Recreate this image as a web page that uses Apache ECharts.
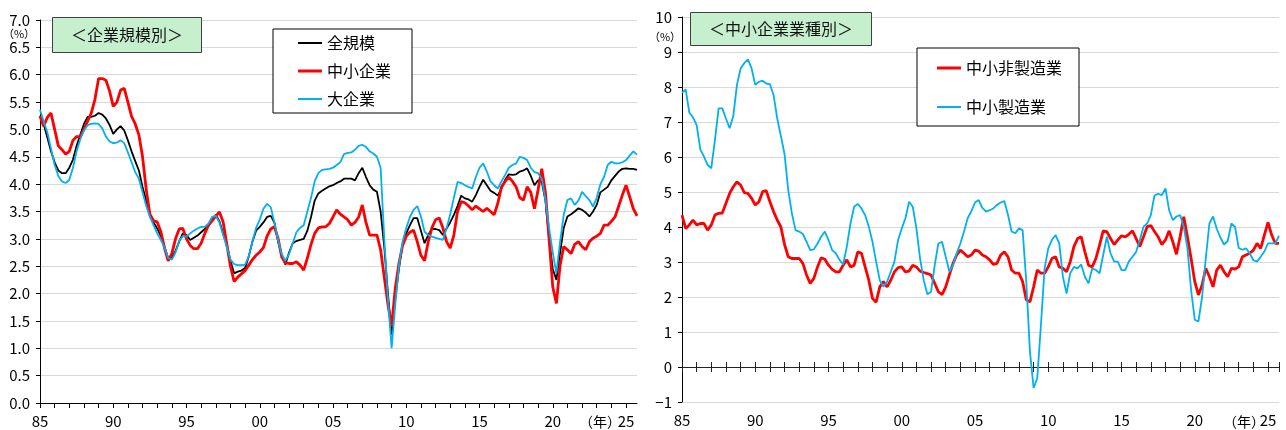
<!DOCTYPE html>
<html>
<head>
<meta charset="utf-8">
<script src="https://cdn.jsdelivr.net/npm/echarts@6/dist/echarts.min.js"></script>
<style>
html,body{margin:0;padding:0;background:#fff;}
#main{width:1286px;height:430px;}
</style>
</head>
<body>
<div id="main"></div>
<script>
// quarterly data, 1985Q1 .. 2025Q4
var quarters = [];
for (var yr = 1985; yr <= 2025; yr++) {
	for (var q = 1; q <= 4; q++) quarters.push(yr + 'Q' + q);
}
var yearLabels = ['85', '90', '95', '00', '05', '10', '15', '20', '25'];

// 企業規模別 (%)
var allSize = [
	5.25, 5.10, 4.85, 4.60,  4.40, 4.25, 4.20, 4.20,  4.30, 4.45, 4.70, 4.90,  5.10, 5.23, 5.23, 5.25,
	5.30, 5.27, 5.20, 5.08,  4.92, 5.00, 5.06, 4.98,  4.80, 4.60, 4.42, 4.25,  3.95, 3.70, 3.45, 3.30,
	3.19, 3.05, 2.85, 2.64,  2.65, 2.78, 2.95, 3.10,  3.07, 2.98, 3.02, 3.06,  3.12, 3.18, 3.24, 3.35,
	3.44, 3.32, 3.10, 2.90,  2.60, 2.37, 2.40, 2.42,  2.47, 2.68, 2.95, 3.15,  3.22, 3.30, 3.40, 3.42,
	3.30, 2.95, 2.70, 2.53,  2.75, 2.92, 2.96, 2.98,  3.00, 3.15, 3.40, 3.70,  3.83, 3.88, 3.92, 3.96,
	3.98, 4.02, 4.05, 4.10,  4.10, 4.10, 4.07, 4.20,  4.30, 4.13, 3.98, 3.90,  3.86, 3.50, 2.85, 2.00,
	1.25, 1.90, 2.45, 2.90,  3.10, 3.25, 3.38, 3.38,  3.15, 2.92, 3.07, 3.18,  3.18, 3.16, 3.07, 3.19,
	3.30, 3.44, 3.60, 3.79,  3.74, 3.72, 3.68, 3.80,  3.95, 4.08, 3.98, 3.88,  3.84, 3.79, 3.92, 4.08,
	4.18, 4.17, 4.18, 4.23,  4.25, 4.29, 4.15, 3.98,  4.07, 4.04, 3.70, 3.00,  2.45, 2.25, 2.75, 3.20,
	3.41, 3.45, 3.50, 3.56,  3.53, 3.48, 3.41, 3.50,  3.62, 3.85, 3.90, 3.95,  4.07, 4.15, 4.23, 4.28,
	4.29, 4.28, 4.28, 4.26
];
var smeAll = [
	5.24, 5.06, 5.22, 5.30,  5.00, 4.70, 4.63, 4.55,  4.60, 4.80, 4.87, 4.87,  5.00, 5.15, 5.30, 5.55,
	5.93, 5.93, 5.90, 5.70,  5.42, 5.50, 5.72, 5.75,  5.50, 5.24, 5.10, 4.90,  4.50, 3.90, 3.45, 3.33,
	3.31, 3.13, 2.83, 2.60,  2.73, 3.00, 3.18, 3.19,  3.00, 2.88, 2.82, 2.82,  2.92, 3.10, 3.25, 3.33,
	3.42, 3.49, 3.31, 2.90,  2.50, 2.22, 2.30, 2.36,  2.42, 2.52, 2.62, 2.70,  2.76, 2.84, 3.05, 3.18,
	3.22, 3.01, 2.67, 2.56,  2.55, 2.55, 2.58, 2.52,  2.43, 2.65, 2.90, 3.10,  3.20, 3.22, 3.22, 3.28,
	3.40, 3.53, 3.45, 3.40,  3.35, 3.25, 3.30, 3.40,  3.62, 3.30, 3.07, 3.07,  3.07, 2.80, 2.30, 1.80,
	1.40, 2.10, 2.55, 2.88,  3.05, 3.12, 3.16, 2.95,  2.70, 2.60, 2.95, 3.20,  3.35, 3.38, 3.20, 2.95,
	2.83, 3.07, 3.50, 3.68,  3.66, 3.60, 3.53, 3.60,  3.55, 3.50, 3.56, 3.50,  3.44, 3.65, 3.95, 4.05,
	4.13, 4.05, 3.95, 3.75,  3.71, 3.95, 3.85, 3.55,  3.90, 4.28, 3.85, 3.00,  2.12, 1.82, 2.52, 2.86,
	2.80, 2.73, 2.90, 2.95,  2.86, 2.80, 2.95, 3.01,  3.05, 3.10, 3.25, 3.25,  3.32, 3.40, 3.60, 3.80,
	3.98, 3.77, 3.55, 3.42
];
var largeAll = [
	5.36, 5.15, 4.95, 4.65,  4.35, 4.15, 4.05, 4.02,  4.08, 4.30, 4.60, 4.82,  4.98, 5.08, 5.10, 5.11,
	5.10, 5.02, 4.87, 4.78,  4.75, 4.76, 4.80, 4.75,  4.58, 4.40, 4.22, 4.10,  3.85, 3.60, 3.40, 3.25,
	3.10, 2.98, 2.84, 2.65,  2.62, 2.75, 2.96, 3.05,  3.04, 3.10, 3.15, 3.19,  3.22, 3.22, 3.28, 3.40,
	3.42, 3.30, 3.07, 2.85,  2.62, 2.54, 2.52, 2.52,  2.53, 2.68, 2.95, 3.20,  3.35, 3.55, 3.64, 3.58,
	3.30, 2.98, 2.72, 2.60,  2.72, 2.92, 3.12, 3.20,  3.25, 3.50, 3.75, 4.05,  4.20, 4.26, 4.27, 4.28,
	4.30, 4.35, 4.40, 4.55,  4.57, 4.58, 4.63, 4.70,  4.72, 4.68, 4.60, 4.56,  4.50, 4.30, 3.00, 1.90,
	1.00, 1.80, 2.50, 2.95,  3.20, 3.40, 3.53, 3.60,  3.41, 3.13, 3.07, 3.04,  3.02, 3.00, 2.98, 3.19,
	3.45, 3.75, 4.04, 4.02,  3.98, 3.95, 3.92, 4.13,  4.30, 4.38, 4.23, 4.05,  3.98, 3.92, 4.05, 4.17,
	4.30, 4.35, 4.38, 4.50,  4.48, 4.44, 4.30, 4.22,  4.20, 4.10, 3.71, 3.20,  2.75, 2.37, 2.95, 3.44,
	3.71, 3.74, 3.62, 3.70,  3.86, 3.78, 3.71, 3.59,  3.75, 4.00, 4.13, 4.35,  4.41, 4.38, 4.38, 4.40,
	4.44, 4.52, 4.60, 4.54
];

// 中小企業業種別 (%)
var smeNonMfg = [
	4.34, 3.96, 4.06, 4.20,  4.06, 4.10, 4.10, 3.91,  4.06, 4.34, 4.39, 4.40,  4.68, 4.96, 5.15, 5.29,
	5.20, 4.98, 4.96, 4.82,  4.63, 4.72, 5.01, 5.04,  4.72, 4.44, 4.20, 4.00,  3.50, 3.15, 3.10, 3.10,
	3.10, 2.96, 2.63, 2.39,  2.53, 2.86, 3.12, 3.08,  2.91, 2.79, 2.72, 2.72,  2.91, 3.06, 2.86, 2.91,
	3.29, 3.25, 2.86, 2.48,  1.96, 1.85, 2.29, 2.44,  2.29, 2.48, 2.72, 2.84,  2.86, 2.72, 2.74, 2.91,
	2.86, 2.74, 2.70, 2.67,  2.63, 2.39, 2.15, 2.07,  2.29, 2.63, 2.96, 3.20,  3.34, 3.25, 3.15, 3.20,
	3.34, 3.31, 3.20, 3.15,  3.06, 2.93, 2.96, 3.20,  3.29, 3.15, 2.77, 2.68,  2.68, 2.44, 1.92, 1.86,
	2.29, 2.77, 2.68, 2.68,  2.86, 3.10, 3.15, 2.86,  2.82, 2.72, 3.01, 3.44,  3.67, 3.72, 3.29, 2.91,
	2.86, 3.10, 3.48, 3.89,  3.87, 3.67, 3.50, 3.63,  3.75, 3.72, 3.79, 3.89,  3.67, 3.44, 3.72, 4.01,
	4.04, 3.87, 3.72, 3.50,  3.63, 3.89, 3.58, 3.22,  3.72, 4.29, 3.72, 3.10,  2.44, 2.06, 2.34, 2.82,
	2.58, 2.29, 2.77, 2.91,  2.72, 2.58, 2.82, 2.80,  2.86, 3.15, 3.20, 3.25,  3.34, 3.53, 3.39, 3.77,
	4.13, 3.77, 3.53, 3.53
];
var smeMfg = [
	7.84, 7.93, 7.27, 7.13,  6.91, 6.22, 6.01, 5.77,  5.68, 6.49, 7.39, 7.39,  7.10, 6.82, 7.17, 8.06,
	8.53, 8.68, 8.79, 8.53,  8.06, 8.15, 8.18, 8.10,  8.08, 7.77, 7.10, 6.60,  6.08, 5.06, 4.39, 3.91,
	3.87, 3.80, 3.58, 3.34,  3.36, 3.53, 3.72, 3.87,  3.63, 3.34, 3.25, 3.06,  2.93, 3.44, 4.10, 4.58,
	4.66, 4.53, 4.34, 4.01,  3.58, 3.01, 2.48, 2.29,  2.44, 2.72, 3.01, 3.63,  3.96, 4.25, 4.72, 4.58,
	3.96, 3.10, 2.48, 2.08,  2.15, 2.91, 3.53, 3.58,  3.15, 2.72, 2.91, 3.25,  3.53, 3.87, 4.25, 4.45,
	4.70, 4.77, 4.55, 4.44,  4.48, 4.53, 4.63, 4.70,  4.74, 4.35, 3.87, 3.82,  3.96, 3.91, 2.44, 0.44,
	-0.60, -0.32, 1.20, 2.82,  3.39, 3.63, 3.77, 3.53,  2.58, 2.10, 2.68, 2.86,  2.82, 2.93, 2.58, 2.39,
	2.82, 2.77, 2.68, 3.20,  3.72, 3.25, 3.01, 3.01,  2.77, 2.77, 3.01, 3.15,  3.29, 3.63, 4.01, 4.10,
	4.34, 4.90, 4.95, 4.91,  5.10, 4.48, 4.20, 4.30,  4.34, 4.00, 3.40, 2.20,  1.35, 1.30, 2.00, 3.10,
	4.10, 4.30, 3.95, 3.70,  3.50, 3.60, 4.10, 4.00,  3.40, 3.35, 3.39, 3.25,  3.05, 3.01, 3.15, 3.30,
	3.53, 3.53, 3.53, 3.75
];

var FONT = 'Noto Sans CJK JP';
var GRIDLINE = '#d9d9d9';
var lastIdx = quarters.length - 1;

// flat line shapes for the legend keys (thin and thick)
var KEY_THIN = 'path://M0,0H24V2H0Z';
var KEY_THICK = 'path://M0,0H24V3H0Z';

function tickEvery(i) { return i % 4 === 0; }
function tickEveryEnd(i) { return i % 4 === 0 || i === lastIdx; }
function labelEvery(i) { return i % 20 === 0; }
function yearFmt(v, i) { return yearLabels[i / 20]; }

var chart = echarts.init(document.getElementById('main'), null, { renderer: 'canvas' });

var option = {
	animation: false,
	backgroundColor: '#fff',
	textStyle: { fontFamily: FONT },
	title: [
		{
			text: '＜企業規模別＞', left: 52, top: 17, padding: [10, 19],
			backgroundColor: '#c6efce', borderColor: '#404040', borderWidth: 1,
			textStyle: { fontFamily: FONT, fontSize: 16, fontWeight: 'normal', color: '#111' }
		},
		{
			text: '＜中小企業業種別＞', left: 690, top: 12, padding: [9, 19],
			backgroundColor: '#c6efce', borderColor: '#404040', borderWidth: 1,
			textStyle: { fontFamily: FONT, fontSize: 16, fontWeight: 'normal', color: '#111' }
		}
	],
	legend: [
		{
			data: [
				{ name: '全規模', icon: KEY_THIN },
				{ name: '中小企業', icon: KEY_THICK },
				{ name: '大企業', icon: KEY_THIN }
			],
			orient: 'vertical', left: 273, top: 29, padding: [6, 21, 6, 25],
			itemGap: 12, itemWidth: 24, itemHeight: 14,
			backgroundColor: '#fff', borderColor: '#000', borderWidth: 1,
			textStyle: { fontFamily: FONT, fontSize: 16, color: '#000' }
		},
		{
			data: [
				{ name: '中小非製造業', icon: KEY_THICK },
				{ name: '中小製造業', icon: KEY_THIN }
			],
			orient: 'vertical', left: 917, top: 48, padding: [12, 17, 11, 20],
			itemGap: 23, itemWidth: 24, itemHeight: 14,
			backgroundColor: '#fff', borderColor: '#000', borderWidth: 1,
			textStyle: { fontFamily: FONT, fontSize: 16, color: '#000' }
		}
	],
	grid: [
		{ left: 40, top: 20, width: 597, bottom: 27, containLabel: false, outerBoundsMode: 'none' },
		{ left: 682, top: 17, width: 597, bottom: 28, containLabel: false, outerBoundsMode: 'none' }
	],
	xAxis: [
		{
			type: 'category', gridIndex: 0, data: quarters, boundaryGap: false,
			axisLine: { lineStyle: { color: '#000', width: 1 } },
			axisTick: { show: true, interval: tickEvery, length: 5, lineStyle: { color: '#000' } },
			axisLabel: { interval: labelEvery, formatter: yearFmt, margin: 11, fontSize: 15, color: '#000', fontFamily: FONT },
			splitLine: { show: false }
		},
		{
			// year labels along the bottom of the right panel
			type: 'category', gridIndex: 1, data: quarters, boundaryGap: false, position: 'bottom',
			axisLine: { show: false, onZero: false },
			axisTick: { show: false },
			axisLabel: { interval: labelEvery, formatter: yearFmt, margin: 11, fontSize: 15, color: '#000', fontFamily: FONT },
			splitLine: { show: false }
		},
		{
			// zero line, lower half of the ticks
			type: 'category', gridIndex: 1, data: quarters, boundaryGap: false, position: 'bottom',
			axisLine: { onZero: true, onZeroAxisIndex: 1, lineStyle: { color: '#222', width: 1 } },
			axisTick: { show: true, interval: tickEveryEnd, length: 5, lineStyle: { color: '#222' } },
			axisLabel: { show: false },
			splitLine: { show: false }
		},
		{
			// zero line, upper half of the ticks
			type: 'category', gridIndex: 1, data: quarters, boundaryGap: false, position: 'top',
			axisLine: { onZero: true, onZeroAxisIndex: 2, lineStyle: { color: '#222', width: 1 } },
			axisTick: { show: true, interval: tickEveryEnd, length: 5, lineStyle: { color: '#222' } },
			axisLabel: { show: false },
			splitLine: { show: false }
		}
	],
	yAxis: [
		{
			type: 'value', gridIndex: 0, min: 0, max: 7, interval: 0.5,
			axisLine: { show: true, lineStyle: { color: '#000' } },
			axisTick: { show: true, length: 4, lineStyle: { color: '#000' } },
			axisLabel: { formatter: function (v) { return v.toFixed(1); }, fontSize: 15, color: '#000', margin: 10, fontFamily: FONT },
			splitLine: { show: true, lineStyle: { color: GRIDLINE, width: 1 } }
		},
		{
			type: 'value', gridIndex: 1, min: -1, max: 10, interval: 1,
			axisLine: { show: true, lineStyle: { color: '#000' } },
			axisTick: { show: true, length: 4, lineStyle: { color: '#000' } },
			axisLabel: {
				formatter: function (v) { return v < 0 ? '\u2212' + (-v) : String(v); },
				fontSize: 15, color: '#000', margin: 10, fontFamily: FONT
			},
			splitLine: { show: true, lineStyle: { color: GRIDLINE, width: 1 } }
		},
		{
			type: 'value', gridIndex: 1, min: -1, max: 10, interval: 1, show: false
		}
	],
	series: [
		{ name: '全規模', type: 'line', xAxisIndex: 0, yAxisIndex: 0, data: allSize, symbol: 'none',
			lineStyle: { color: '#000', width: 1.8 }, itemStyle: { color: '#000' } },
		{ name: '中小企業', type: 'line', xAxisIndex: 0, yAxisIndex: 0, data: smeAll, symbol: 'none',
			lineStyle: { color: '#ff0000', width: 2.8 }, itemStyle: { color: '#ff0000' } },
		{ name: '大企業', type: 'line', xAxisIndex: 0, yAxisIndex: 0, data: largeAll, symbol: 'none',
			lineStyle: { color: '#00b0f0', width: 1.8 }, itemStyle: { color: '#00b0f0' } },
		{ name: '中小非製造業', type: 'line', xAxisIndex: 1, yAxisIndex: 1, data: smeNonMfg, symbol: 'none',
			lineStyle: { color: '#ff0000', width: 2.8 }, itemStyle: { color: '#ff0000' } },
		{ name: '中小製造業', type: 'line', xAxisIndex: 1, yAxisIndex: 1, data: smeMfg, symbol: 'none',
			lineStyle: { color: '#00b0f0', width: 1.8 }, itemStyle: { color: '#00b0f0' } }
	],
	graphic: [
		{ type: 'text', x: 19, y: 34, style: { text: '（%）', fontSize: 11, fontFamily: FONT, fill: '#000', align: 'center', verticalAlign: 'middle' } },
		{ type: 'text', x: 665, y: 37, style: { text: '（%）', fontSize: 11, fontFamily: FONT, fill: '#000', align: 'center', verticalAlign: 'middle' } },
		{ type: 'text', x: 621, y: 422, style: { text: '（年）', fontSize: 14, fontFamily: FONT, fill: '#000', align: 'right', verticalAlign: 'middle' } },
		{ type: 'text', x: 1265, y: 422, style: { text: '（年）', fontSize: 14, fontFamily: FONT, fill: '#000', align: 'right', verticalAlign: 'middle' } }
	]
};

chart.setOption(option);
</script>
</body>
</html>
